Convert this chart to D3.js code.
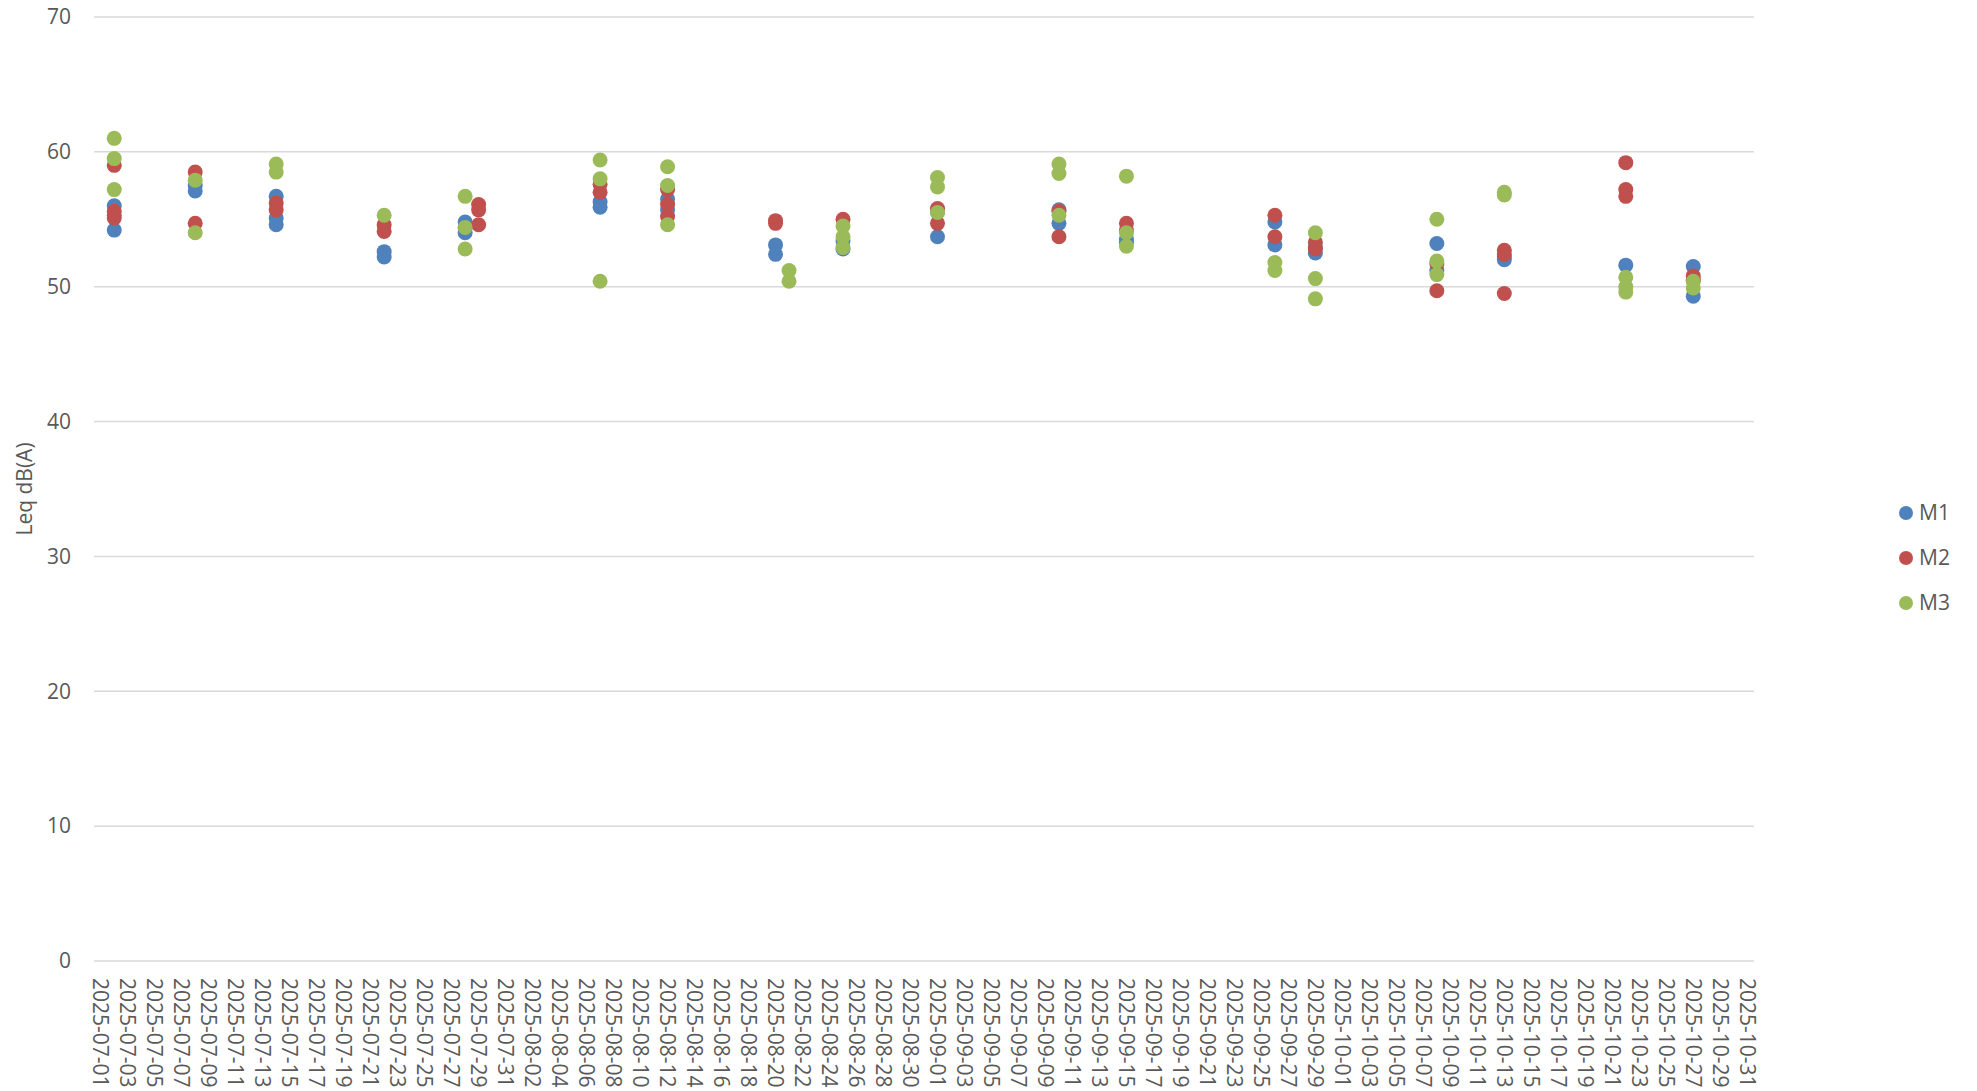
<!DOCTYPE html>
<html>
<head>
<meta charset="utf-8">
<script src="https://cdn.jsdelivr.net/npm/d3@7"></script>
<style>
  body { margin: 0; background: #ffffff; }
  #chart { width: 1977px; height: 1091px; }
</style>
</head>
<body>
<div id="chart"></div>
<script>
// ----------------------------------------------------------------------------------------------------
// DATA
// ----------------------------------------------------------------------------------------------------

var seriesNames = ["M1", "M2", "M3"];
var firstDay = "2025-07-01";
var lastDay = "2025-10-31";
var yTicks = [0, 10, 20, 30, 40, 50, 60, 70];

var m1 = [
    ["2025-07-02", 56.0], ["2025-07-02", 55.3], ["2025-07-02", 54.2],
    ["2025-07-08", 57.5], ["2025-07-08", 57.1],
    ["2025-07-14", 56.7], ["2025-07-14", 55.1], ["2025-07-14", 54.6],
    ["2025-07-22", 52.6], ["2025-07-22", 52.2],
    ["2025-07-28", 54.8], ["2025-07-28", 54.4], ["2025-07-28", 54.0],
    ["2025-08-07", 56.3], ["2025-08-07", 55.9],
    ["2025-08-12", 56.5], ["2025-08-12", 55.7],
    ["2025-08-20", 53.1], ["2025-08-20", 52.4],
    ["2025-08-25", 53.4], ["2025-08-25", 52.8],
    ["2025-09-01", 55.5], ["2025-09-01", 53.7],
    ["2025-09-10", 55.7], ["2025-09-10", 54.7],
    ["2025-09-15", 53.5], ["2025-09-15", 53.3],
    ["2025-09-26", 54.8], ["2025-09-26", 53.1],
    ["2025-09-29", 52.9], ["2025-09-29", 52.5],
    ["2025-10-08", 53.2], ["2025-10-08", 51.2],
    ["2025-10-13", 52.2], ["2025-10-13", 52.0],
    ["2025-10-22", 51.6],
    ["2025-10-27", 51.5], ["2025-10-27", 50.5], ["2025-10-27", 49.3]
];

var m2 = [
    ["2025-07-02", 59.0], ["2025-07-02", 55.6], ["2025-07-02", 55.1],
    ["2025-07-08", 58.5], ["2025-07-08", 54.7],
    ["2025-07-14", 56.2], ["2025-07-14", 55.7],
    ["2025-07-22", 54.6], ["2025-07-22", 54.1],
    ["2025-07-29", 56.1], ["2025-07-29", 55.7], ["2025-07-29", 54.6],
    ["2025-08-07", 57.6], ["2025-08-07", 57.0],
    ["2025-08-12", 57.2], ["2025-08-12", 56.1], ["2025-08-12", 55.2],
    ["2025-08-20", 54.9], ["2025-08-20", 54.7],
    ["2025-08-25", 55.0],
    ["2025-09-01", 55.8], ["2025-09-01", 54.7],
    ["2025-09-10", 55.6], ["2025-09-10", 53.7],
    ["2025-09-15", 54.7], ["2025-09-15", 54.2],
    ["2025-09-26", 55.3], ["2025-09-26", 53.7],
    ["2025-09-29", 53.3], ["2025-09-29", 52.8],
    ["2025-10-08", 51.7], ["2025-10-08", 49.7],
    ["2025-10-13", 52.7], ["2025-10-13", 52.4], ["2025-10-13", 49.5],
    ["2025-10-22", 59.2], ["2025-10-22", 57.2], ["2025-10-22", 56.7],
    ["2025-10-27", 50.8], ["2025-10-27", 50.5]
];

var m3 = [
    ["2025-07-02", 61.0], ["2025-07-02", 59.5], ["2025-07-02", 57.2],
    ["2025-07-08", 57.9], ["2025-07-08", 54.0],
    ["2025-07-14", 59.1], ["2025-07-14", 58.5],
    ["2025-07-22", 55.3],
    ["2025-07-28", 56.7], ["2025-07-28", 54.4], ["2025-07-28", 52.8],
    ["2025-08-07", 59.4], ["2025-08-07", 58.0], ["2025-08-07", 50.4],
    ["2025-08-12", 58.9], ["2025-08-12", 57.5], ["2025-08-12", 54.6],
    ["2025-08-21", 51.2], ["2025-08-21", 50.4],
    ["2025-08-25", 54.5], ["2025-08-25", 53.7], ["2025-08-25", 52.9],
    ["2025-09-01", 58.1], ["2025-09-01", 57.4], ["2025-09-01", 55.5],
    ["2025-09-10", 59.1], ["2025-09-10", 58.4], ["2025-09-10", 55.3],
    ["2025-09-15", 58.2], ["2025-09-15", 54.0], ["2025-09-15", 53.0],
    ["2025-09-26", 51.8], ["2025-09-26", 51.2],
    ["2025-09-29", 54.0], ["2025-09-29", 50.6], ["2025-09-29", 49.1],
    ["2025-10-08", 55.0], ["2025-10-08", 51.9], ["2025-10-08", 50.9],
    ["2025-10-13", 57.0], ["2025-10-13", 56.8],
    ["2025-10-22", 50.7], ["2025-10-22", 50.0], ["2025-10-22", 49.6],
    ["2025-10-27", 50.4], ["2025-10-27", 49.9]
];

// ----------------------------------------------------------------------------------------------------
// CHART
// ----------------------------------------------------------------------------------------------------

function chartLeq_ColorSeries(n) {
    var colorsList = [
        "#4f81bd",
        "#c0504d",
        "#9bbb59"
    ];
    return colorsList[n % colorsList.length];
}

function chartLeq_Draw(ele) {
    ele = "#" + ele;

    var w = 1977;
    var h = 1091;
    var left = 94, right = 1754, top = 17, bottom = 961;
    var font = "'Open Sans', sans-serif";
    var fontSize = "21px";
    var textColor = "#595959";

    // Days on the category axis
    var parse = d3.utcParse("%Y-%m-%d");
    var fmt = d3.utcFormat("%Y-%m-%d");
    var days = d3.utcDay.range(parse(firstDay), d3.utcDay.offset(parse(lastDay), 1)).map(fmt);
    var tickDays = days.filter(function(d, i) { return i % 2 === 0; });

    var x = d3.scaleBand()
        .domain(days)
        .range([left, right])
        .padding(0);

    var y = d3.scaleLinear()
        .domain([0, 70])
        .range([bottom, top]);

    var svg = d3.select(ele)
        .append("svg")
        .attr("width", w)
        .attr("height", h);

        // Gridlines
        svg.append("g")
            .selectAll("line")
            .data(yTicks)
            .enter()
            .append("line")
            .attr("x1", left)
            .attr("x2", right)
            .attr("y1", function(d) { return y(d); })
            .attr("y2", function(d) { return y(d); })
            .attr("stroke", "#d9d9d9")
            .attr("stroke-width", 1.5);

        // Y axis
        var yAxis = svg.append("g")
            .attr("transform", "translate(" + (left - 23) + ",0)")
            .call(d3.axisLeft(y).tickValues(yTicks).tickSize(0).tickPadding(0));
        yAxis.select(".domain").remove();
        yAxis.selectAll("text")
            .attr("font-family", font)
            .attr("font-size", fontSize)
            .attr("fill", textColor);

        // X axis
        var xAxis = svg.append("g")
            .attr("transform", "translate(0," + bottom + ")")
            .call(d3.axisBottom(x).tickValues(tickDays).tickSize(0));
        xAxis.select(".domain").remove();
        xAxis.selectAll("text")
            .attr("font-family", font)
            .attr("font-size", fontSize)
            .attr("fill", textColor)
            .attr("text-anchor", "start")
            .attr("dy", "0.35em")
            .attr("transform", "rotate(90)")
            .attr("x", 17)
            .attr("y", 0);

        // Y title
        svg.append("text")
            .attr("transform", "translate(32," + ((top + bottom) / 2) + ") rotate(-90)")
            .attr("text-anchor", "middle")
            .attr("font-family", font)
            .attr("font-size", fontSize)
            .attr("fill", textColor)
            .text("Leq dB(A)");

        // Points
        var allSeries = [m1, m2, m3];
        allSeries.forEach(function(data, s) {
            svg.append("g")
                .selectAll("circle")
                .data(data)
                .enter()
                .append("circle")
                .attr("cx", function(d) { return x(d[0]) + x.bandwidth() / 2; })
                .attr("cy", function(d) { return y(d[1]); })
                .attr("r", 7.5)
                .attr("fill", chartLeq_ColorSeries(s));
        });

        // Legend
        var legend = svg.append("g")
            .selectAll("g")
            .data(seriesNames)
            .enter()
            .append("g")
            .attr("transform", function(d, i) { return "translate(1906," + (513 + i * 45) + ")"; });
        legend.append("circle")
            .attr("r", 7)
            .attr("fill", function(d, i) { return chartLeq_ColorSeries(i); });
        legend.append("text")
            .attr("x", 13)
            .attr("dy", "0.35em")
            .attr("font-family", font)
            .attr("font-size", fontSize)
            .attr("fill", textColor)
            .text(function(d) { return d; });
}

chartLeq_Draw("chart");
</script>
</body>
</html>
